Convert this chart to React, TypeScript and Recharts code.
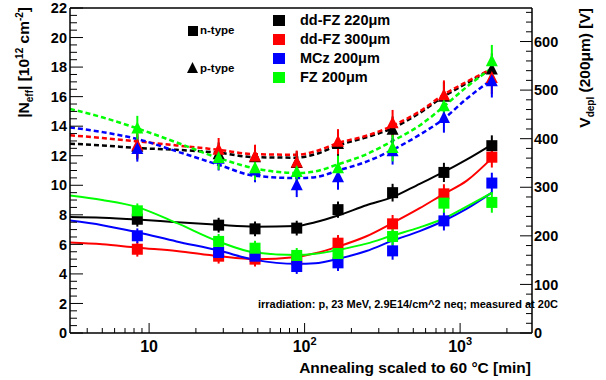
import React from "react";
import {
  ComposedChart,
  Line,
  Scatter,
  ErrorBar,
  XAxis,
  YAxis,
  ReferenceLine,
} from "recharts";

// annealing times (min, scaled to 60 C)
const times = [8.4, 28, 48, 89, 164, 368, 787, 1600];

// n-type (squares)
const nBlack = [7.7, 7.3, 7.05, 7.1, 8.35, 9.5, 10.87, 12.68];
const nRed = [5.67, 5.2, 5.0, 4.95, 6.08, 7.39, 9.42, 11.9];
const nBlue = [6.58, 5.45, 5.2, 4.5, 4.75, 5.56, 7.59, 10.15];
const nGreen = [8.27, 6.2, 5.74, 5.25, 5.38, 6.53, 8.79, 8.84];
const nErr = [0.5, 0.5, 0.5, 0.5, 0.55, 0.6, 0.65, 0.7];

// p-type (triangles)
const pBlack = [12.6, 12.1, 11.9, 11.5, 12.8, 13.76, 16.0, 17.83];
const pRed = [12.7, 12.4, 11.95, 11.55, 12.95, 14.2, 16.1, 17.27];
const pBlue = [12.45, 11.8, 11.0, 10.0, 10.55, 12.3, 14.56, 17.04];
const pGreen = [13.85, 11.85, 11.15, 10.9, 11.15, 12.52, 15.35, 18.4];
const pErr = [0.85, 0.8, 0.8, 0.8, 0.85, 0.9, 1.0, 1.1];

// fit curves
const fitTimes = [3.1, 5, 8.4, 15, 28, 48, 89, 117, 164, 250, 368, 550, 787, 1100, 1600];
const fitNBlack = [7.85, 7.8, 7.68, 7.5, 7.32, 7.2, 7.25, 7.5, 7.95, 8.65, 9.2, 10.1, 10.9, 11.73, 12.75];
const fitNRed = [6.12, 6.0, 5.77, 5.55, 5.2, 5.0, 5.15, 5.4, 5.85, 6.55, 7.45, 8.45, 9.42, 10.3, 11.84];
const fitNBlue = [7.61, 7.3, 6.82, 6.2, 5.58, 4.95, 4.68, 4.72, 5.02, 5.55, 6.25, 6.9, 7.6, 8.4, 9.5];
const fitNGreen = [9.31, 9.0, 8.52, 7.45, 6.19, 5.45, 5.28, 5.36, 5.62, 6.05, 6.6, 7.15, 7.75, 8.55, 9.48];
const fitPBlack = [12.81, 12.7, 12.52, 12.4, 12.2, 11.9, 11.87, 12.1, 12.7, 13.25, 13.87, 14.9, 16.02, 16.9, 17.88];
const fitPRed = [13.38, 13.2, 12.97, 12.7, 12.4, 12.1, 12.07, 12.29, 12.86, 13.35, 14.03, 15.0, 16.14, 17.0, 17.88];
const fitPBlue = [13.92, 13.6, 13.13, 12.3, 11.39, 10.64, 10.49, 10.55, 11.0, 11.6, 12.4, 13.42, 14.51, 15.85, 17.15];
const fitPGreen = [15.17, 14.6, 13.85, 12.9, 11.84, 11.14, 10.83, 10.94, 11.42, 12.1, 13.0, 14.05, 15.34, 16.65, 17.94];

const seriesNames = ["dd-FZ 220\u03bcm", "dd-FZ 300\u03bcm", "MCz 200\u03bcm", "FZ 200\u03bcm"];
const colors = ["#000000", "#ff0000", "#0000ff", "#00ff00"];

// axes
const xDomain = [3.1, 2900];
const xMajor = [10, 100, 1000];
const xMajorExp = ["", "2", "3"];
const xMinor = [4, 5, 6, 7, 8, 9, 20, 30, 40, 50, 60, 70, 80, 90, 200, 300, 400, 500, 600, 700, 800, 900, 2000];
const leftMajor = [0, 2, 4, 6, 8, 10, 12, 14, 16, 18, 20, 22];
const rightMajor = [0, 100, 200, 300, 400, 500, 600];
const rightMax = 669; // V_depl for 200um at Neff = 22e12

const leftTicks: number[] = [];
for (let v = 0; v <= 22.001; v += 0.5) leftTicks.push(Math.round(v * 10) / 10);
const rightTicks: number[] = [];
for (let v = 0; v <= 660; v += 20) rightTicks.push(v);

const pts = (ys: number[], errs: number[]) => times.map((x, i) => ({ x, y: ys[i], err: errs[i] }));
const fit = (ys: number[]) => fitTimes.map((x, i) => ({ x, y: ys[i] }));

const FONT = "'Liberation Sans', Arial, Helvetica, sans-serif";

const square = (color: string) => (p: any) => (
  <rect x={p.cx - 5.5} y={p.cy - 5.5} width={11} height={11} fill={color} />
);
const triangle = (color: string) => (p: any) => (
  <polygon
    points={`${p.cx - 6},${p.cy + 5} ${p.cx + 6},${p.cy + 5} ${p.cx},${p.cy - 7}`}
    fill={color}
  />
);

const LeftTick = (p: any) => {
  const v = p.payload.value;
  const major = leftMajor.includes(v);
  return (
    <g>
      <line x1={p.x} x2={p.x + (major ? 13 : 7)} y1={p.y} y2={p.y} stroke="#000" strokeWidth={1} />
      {major && (
        <text x={p.x - 3} y={p.y} dy="0.36em" textAnchor="end" fontFamily={FONT} fontWeight="bold" fontSize={14.5} fill="#000">
          {v}
        </text>
      )}
    </g>
  );
};

const RightTick = (p: any) => {
  const v = p.payload.value;
  const major = rightMajor.includes(v);
  return (
    <g>
      <line x1={p.x} x2={p.x - (major ? 12 : 6)} y1={p.y} y2={p.y} stroke="#000" strokeWidth={1} />
      {major && (
        <text x={p.x + 2} y={p.y} dy="0.36em" textAnchor="start" fontFamily={FONT} fontWeight="bold" fontSize={14.5} fill="#000">
          {v}
        </text>
      )}
    </g>
  );
};

const BottomTick = (p: any) => {
  const v = p.payload.value;
  const mi = xMajor.indexOf(v);
  const major = mi >= 0;
  return (
    <g>
      <line x1={p.x} x2={p.x} y1={p.y} y2={p.y - (major ? 10 : 5)} stroke="#000" strokeWidth={1} />
      {major && (
        <text x={p.x} y={p.y + 19} textAnchor="middle" fontFamily={FONT} fontWeight="bold" fontSize={16} fill="#000">
          <tspan>10</tspan>
          {xMajorExp[mi] && (
            <tspan dy={-7} fontSize={11}>
              {xMajorExp[mi]}
            </tspan>
          )}
        </text>
      )}
    </g>
  );
};

const fitSets = [
  { data: fitNBlack, c: 0, dash: false },
  { data: fitNRed, c: 1, dash: false },
  { data: fitNBlue, c: 2, dash: false },
  { data: fitNGreen, c: 3, dash: false },
  { data: fitPBlack, c: 0, dash: true },
  { data: fitPRed, c: 1, dash: true },
  { data: fitPBlue, c: 2, dash: true },
  { data: fitPGreen, c: 3, dash: true },
];

const markerSets = [
  { data: nBlack, err: nErr, c: 0, tri: false },
  { data: nRed, err: nErr, c: 1, tri: false },
  { data: nBlue, err: nErr, c: 2, tri: false },
  { data: nGreen, err: nErr, c: 3, tri: false },
  { data: pBlack, err: pErr, c: 0, tri: true },
  { data: pRed, err: pErr, c: 1, tri: true },
  { data: pBlue, err: pErr, c: 2, tri: true },
  { data: pGreen, err: pErr, c: 3, tri: true },
];

const legendBaselines = [25, 44, 63, 82];

export default function App() {
  return (
    <div style={{ position: "relative", width: 606, height: 380, background: "#fff" }}>
      <style>{`body{margin:0}`}</style>
      <ComposedChart width={606} height={380} margin={{ top: 8, right: 0, bottom: 0, left: 0 }}>
        <XAxis
          dataKey="x"
          type="number"
          scale="log"
          domain={xDomain}
          allowDataOverflow
          ticks={[...xMinor, ...xMajor].sort((a, b) => a - b)}
          interval={0}
          height={47}
          tickSize={0}
          tickMargin={0}
          tickLine={false}
          axisLine={{ stroke: "#000", strokeWidth: 1.5 }}
          tick={(p: any) => <BottomTick {...p} />}
        />
        <YAxis
          yAxisId="left"
          dataKey="y"
          type="number"
          domain={[0, 22]}
          allowDataOverflow
          ticks={leftTicks}
          interval={0}
          width={70}
          tickSize={0}
          tickMargin={0}
          tickLine={false}
          axisLine={{ stroke: "#000", strokeWidth: 1.5 }}
          tick={(p: any) => <LeftTick {...p} />}
        />
        <YAxis
          yAxisId="right"
          orientation="right"
          type="number"
          domain={[0, rightMax]}
          allowDataOverflow
          ticks={rightTicks}
          interval={0}
          width={74}
          tickSize={0}
          tickMargin={0}
          tickLine={false}
          axisLine={{ stroke: "#000", strokeWidth: 1.5 }}
          tick={(p: any) => <RightTick {...p} />}
        />
        <ReferenceLine yAxisId="left" y={22} stroke="#000" strokeWidth={1.5} />
        {fitSets.map((f, i) => (
          <Line
            key={"fit" + i}
            yAxisId="left"
            data={fit(f.data)}
            dataKey="y"
            type="monotone"
            stroke={colors[f.c]}
            strokeWidth={f.dash ? 2.5 : 2}
            strokeDasharray={f.dash ? "5 3" : undefined}
            dot={false}
            activeDot={false}
            isAnimationActive={false}
          />
        ))}
        {markerSets.map((m, i) => (
          <Scatter
            key={"pts" + i}
            yAxisId="left"
            data={pts(m.data, m.err)}
            dataKey="y"
            shape={m.tri ? triangle(colors[m.c]) : square(colors[m.c])}
            isAnimationActive={false}
          >
            <ErrorBar dataKey="err" direction="y" width={0} stroke={colors[m.c]} strokeWidth={2} />
          </Scatter>
        ))}
      </ComposedChart>
      <svg
        width={606}
        height={380}
        style={{ position: "absolute", left: 0, top: 0, pointerEvents: "none" }}
        fontFamily={FONT}
        fontWeight="bold"
      >
        {/* legend: marker type */}
        <rect x={188} y={26} width={10} height={10} fill="#000" />
        <text x={200} y={34} fontSize={11.5}>n-type</text>
        <polygon points="187,73 198,73 192.5,62" fill="#000" />
        <text x={200} y={72} fontSize={11.5}>p-type</text>
        {/* legend: series */}
        {seriesNames.map((s, i) => (
          <g key={s}>
            <rect x={273} y={legendBaselines[i] - 10} width={12} height={11} fill={colors[i]} />
            <text x={300} y={legendBaselines[i]} fontSize={14.5}>
              {s}
            </text>
          </g>
        ))}
        <text x={558} y={308} fontSize={11} textAnchor="end">
          irradiation: p, 23 MeV, 2.9E14/cm^2 neq; measured at 20C
        </text>
        <text x={531} y={373} fontSize={15.5} textAnchor="end">
          Annealing scaled to 60 °C [min]
        </text>
        <text transform="translate(29,7) rotate(-90)" fontSize={15.5} textAnchor="end">
          <tspan>|N</tspan>
          <tspan fontSize={10} dy={4}>eff</tspan>
          <tspan dy={-4}>| [10</tspan>
          <tspan fontSize={10} dy={-6}>12</tspan>
          <tspan dy={6}> cm</tspan>
          <tspan fontSize={10} dy={-6}>-2</tspan>
          <tspan dy={6}>]</tspan>
        </text>
        <text transform="translate(590,8) rotate(-90)" fontSize={15.5} textAnchor="end">
          <tspan>V</tspan>
          <tspan fontSize={10} dy={4}>depl</tspan>
          <tspan dy={-4}> (200μm) [V]</tspan>
        </text>
      </svg>
    </div>
  );
}
